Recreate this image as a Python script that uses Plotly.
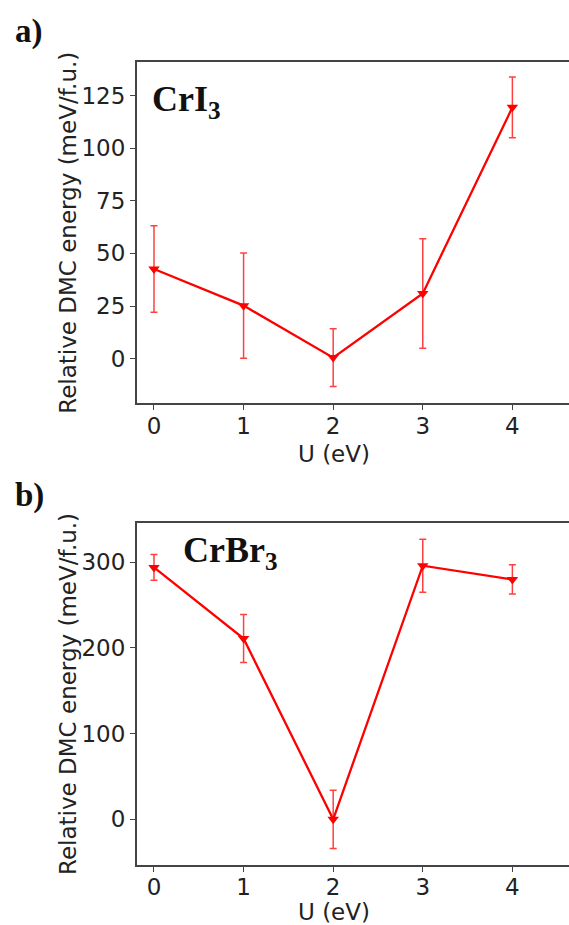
import plotly.graph_objects as go

# Hubbard U values (eV)
u_values = [0, 1, 2, 3, 4]

# CrI3: relative DMC energy and error bars (meV/f.u.)
cri3_energy = [42.6, 25.2, 0.5, 31.0, 119.4]
cri3_error = [20.5, 25.0, 13.7, 26.0, 14.4]

# CrBr3: relative DMC energy and error bars (meV/f.u.)
crbr3_energy = [294, 211, 0, 296, 280]
crbr3_error = [15, 28, 34, 31, 17]

x_ticks = [0, 1, 2, 3, 4]
cri3_ticks = [0, 25, 50, 75, 100, 125]
crbr3_ticks = [0, 100, 200, 300]

W, H = 569, 925
RED = "#ff0000"
AXIS_COLOR = "#444444"
TEXT_COLOR = "#222222"
SANS = "DejaVu Sans, sans-serif"
SERIF = "Liberation Serif, Times New Roman, serif"
FS = 23


def px_x(x):
    return x / W


def px_y(y):
    return 1 - y / H


fig = go.Figure()

for energy, err, xa, ya in [
    (cri3_energy, cri3_error, "x", "y"),
    (crbr3_energy, crbr3_error, "x2", "y2"),
]:
    fig.add_trace(go.Scatter(
        x=u_values, y=energy,
        mode="lines+markers",
        line=dict(color=RED, width=2.3),
        marker=dict(symbol="triangle-down", size=10, color=RED),
        error_y=dict(type="data", array=err, visible=True,
                     color="rgba(255,0,0,0.75)", thickness=1.5, width=3.5),
        xaxis=xa, yaxis=ya, showlegend=False,
        cliponaxis=False,
    ))

x_left = px_x(136.7)
common_x = dict(
    range=[-0.193, 4.632], tickvals=x_ticks, ticks="outside", ticklen=5,
    tickwidth=1.4, tickcolor=AXIS_COLOR, showline=True, linecolor=AXIS_COLOR,
    linewidth=1.5, mirror=True, showgrid=False, zeroline=False,
    ticklabelstandoff=-4,
    tickfont=dict(family=SANS, size=FS, color=TEXT_COLOR),
)
common_y = dict(
    ticks="outside", ticklen=5, tickwidth=1.4, tickcolor=AXIS_COLOR,
    showline=True, linecolor=AXIS_COLOR, linewidth=1.5, mirror=False,
    showgrid=False, zeroline=False,
    tickfont=dict(family=SANS, size=FS, color=TEXT_COLOR),
)

fig.update_layout(
    width=W, height=H,
    margin=dict(l=0, r=0, t=0, b=0),
    paper_bgcolor="white", plot_bgcolor="white",
    xaxis=dict(domain=[x_left, 1], anchor="y", **common_x),
    yaxis=dict(domain=[px_y(403.3), px_y(62.3)], anchor="x",
               range=[-21.2, 140.8], tickvals=cri3_ticks, **common_y),
    xaxis2=dict(domain=[x_left, 1], anchor="y2", **common_x),
    yaxis2=dict(domain=[px_y(865), px_y(523.3)], anchor="x2",
                range=[-53.3, 345.5], tickvals=crbr3_ticks, **common_y),
)

ytitle = "Relative DMC energy (meV/f.u.)"
annotations = [
    # panel letters
    dict(text="<b>a)</b>", x=px_x(13), y=px_y(32), xanchor="left", yanchor="middle",
         font=dict(family=SERIF, size=33, color="#111111")),
    dict(text="<b>b)</b>", x=px_x(13), y=px_y(496), xanchor="left", yanchor="middle",
         font=dict(family=SERIF, size=33, color="#111111")),
    # compound labels
    dict(text="<b>CrI<sub>3</sub></b>", x=px_x(150), y=px_y(101), xanchor="left",
         yanchor="middle", font=dict(family=SERIF, size=36, color="#111111")),
    dict(text="<b>CrBr<sub>3</sub></b>", x=px_x(181), y=px_y(552), xanchor="left",
         yanchor="middle", font=dict(family=SERIF, size=36, color="#111111")),
    # axis titles
    dict(text=ytitle, x=px_x(68), y=px_y(232.8), textangle=-90, xanchor="center",
         yanchor="middle", font=dict(family=SANS, size=FS, color=TEXT_COLOR)),
    dict(text=ytitle, x=px_x(68), y=px_y(694), textangle=-90, xanchor="center",
         yanchor="middle", font=dict(family=SANS, size=FS, color=TEXT_COLOR)),
    dict(text="U (eV)", x=px_x(333.7), y=px_y(454), xanchor="center", yanchor="middle",
         font=dict(family=SANS, size=FS, color=TEXT_COLOR)),
    dict(text="U (eV)", x=px_x(333.7), y=px_y(912), xanchor="center", yanchor="middle",
         font=dict(family=SANS, size=FS, color=TEXT_COLOR)),
]
for a in annotations:
    a.update(xref="paper", yref="paper", showarrow=False)
fig.update_layout(annotations=annotations)

fig.write_html("out.html")
